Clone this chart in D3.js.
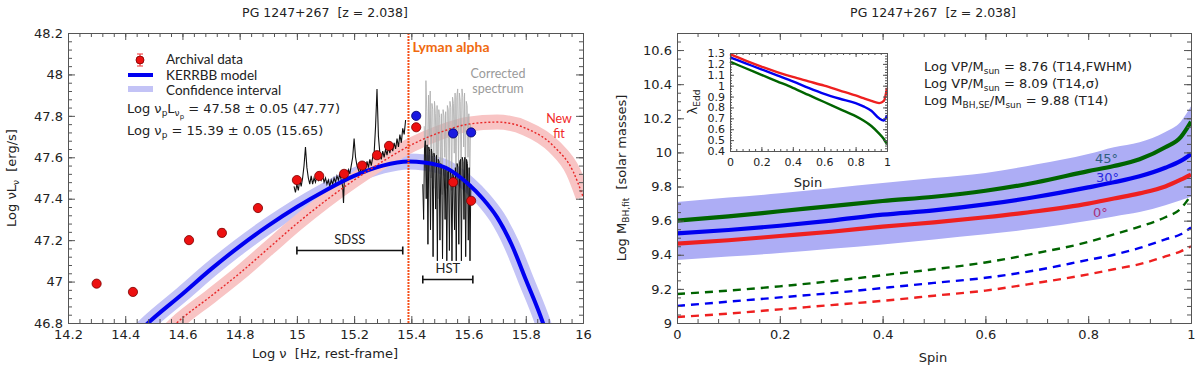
<!DOCTYPE html>
<html>
<head>
<meta charset="utf-8">
<script src="https://cdn.jsdelivr.net/npm/d3@7"></script>
<style>
  body { margin: 0; background: #fff; }
  text { font-family: "DejaVu Sans", sans-serif; fill: #222; white-space: pre; }
  .axis path, .axis line { stroke: #555; }
  .axis text { font-family: "DejaVu Sans", sans-serif; font-size: 13px; fill: #222; }
  .lato { font-family: Lato, "Open Sans", sans-serif; }
</style>
</head>
<body>
<div id="chart"></div>
<script>
// ---------------- data : left panel (SED) ----------------
let LEFT_X_TICKS = [14.2, 14.4, 14.6, 14.8, 15, 15.2, 15.4, 15.6, 15.8, 16];
let LEFT_Y_TICKS = [46.8, 47, 47.2, 47.4, 47.6, 47.8, 48, 48.2];

// archival photometry (red)
let ARCH_NU  = [14.30, 14.427, 14.623, 14.738, 14.864, 15.0, 15.078, 15.165, 15.228, 15.28, 15.322, 15.417, 15.546, 15.609];
let ARCH_L   = [46.99, 46.95, 47.20, 47.235, 47.355, 47.49, 47.51, 47.52, 47.56, 47.61, 47.655, 47.745, 47.48, 47.39];
let ARCH_ERR = [0, 0, 0, 0.018, 0, 0, 0, 0, 0, 0, 0, 0, 0, 0];
// corrected points (blue)
let CORR_NU = [15.417, 15.546, 15.609];
let CORR_L  = [47.80, 47.715, 47.72];

// KERRBB model
let KERR_NU = [14.45, 14.48, 14.6, 14.7, 14.8, 14.9, 15.0, 15.1, 15.2, 15.3, 15.39, 15.5, 15.6, 15.65, 15.7, 15.75, 15.8, 15.86, 15.9];
let KERR_L  = [46.76, 46.80, 46.94, 47.06, 47.17, 47.27, 47.36, 47.44, 47.51, 47.56, 47.58, 47.56, 47.47, 47.40, 47.31, 47.18, 47.01, 46.80, 46.62];

// new fit
let NEWFIT_NU = [14.55, 14.58, 14.7, 14.8, 14.9, 15.0, 15.1, 15.2, 15.3, 15.4, 15.5, 15.6, 15.7, 15.8, 15.9, 15.966, 16.0];
let NEWFIT_L  = [46.76, 46.80, 46.93, 47.04, 47.16, 47.28, 47.39, 47.49, 47.58, 47.66, 47.72, 47.76, 47.77, 47.74, 47.65, 47.53, 47.41];

// SDSS spectrum
let SDSS_NU = [14.990, 14.995, 15.000, 15.005, 15.010, 15.015, 15.020, 15.025, 15.030, 15.035, 15.040, 15.045, 15.050, 15.055, 15.060, 15.065, 15.070, 15.075, 15.080, 15.085, 15.090, 15.095, 15.100, 15.105, 15.110, 15.115, 15.120, 15.125, 15.130, 15.135, 15.140, 15.145, 15.150, 15.155, 15.160, 15.163, 15.166, 15.170, 15.175, 15.180, 15.185, 15.190, 15.195, 15.200, 15.205, 15.210, 15.215, 15.220, 15.225, 15.230, 15.235, 15.240, 15.245, 15.250, 15.255, 15.260, 15.265, 15.270, 15.275, 15.280, 15.285, 15.290, 15.295, 15.300, 15.305, 15.310, 15.315, 15.320, 15.325, 15.330, 15.335, 15.340, 15.345, 15.350, 15.355, 15.360, 15.365, 15.370, 15.375, 15.380];
let SDSS_L  = [47.46, 47.43, 47.47, 47.44, 47.49, 47.46, 47.50, 47.56, 47.65, 47.55, 47.50, 47.47, 47.51, 47.47, 47.50, 47.48, 47.51, 47.49, 47.52, 47.49, 47.51, 47.48, 47.50, 47.47, 47.49, 47.46, 47.49, 47.47, 47.50, 47.48, 47.51, 47.49, 47.52, 47.49, 47.46, 47.38, 47.50, 47.53, 47.51, 47.54, 47.52, 47.56, 47.60, 47.69, 47.60, 47.56, 47.54, 47.52, 47.56, 47.53, 47.57, 47.54, 47.58, 47.55, 47.59, 47.56, 47.60, 47.62, 47.75, 47.93, 47.70, 47.62, 47.59, 47.63, 47.60, 47.64, 47.61, 47.65, 47.62, 47.66, 47.63, 47.67, 47.64, 47.69, 47.65, 47.71, 47.67, 47.74, 47.71, 47.78];

// HST spectrum (observed, black)
let HST_NU = [15.440, 15.443, 15.446, 15.449, 15.452, 15.455, 15.458, 15.461, 15.464, 15.467, 15.470, 15.473, 15.476, 15.479, 15.482, 15.485, 15.488, 15.491, 15.494, 15.497, 15.500, 15.503, 15.506, 15.509, 15.512, 15.515, 15.518, 15.521, 15.524, 15.527, 15.530, 15.533, 15.536, 15.539, 15.542, 15.545, 15.548, 15.551, 15.554, 15.557, 15.560, 15.563, 15.566, 15.569, 15.572, 15.575, 15.578, 15.581, 15.584, 15.587, 15.590, 15.593, 15.596, 15.599, 15.602, 15.605, 15.608];
let HST_L  = [47.47, 47.30, 47.64, 47.68, 47.40, 47.66, 47.18, 47.65, 47.63, 47.25, 47.64, 47.61, 47.12, 47.62, 47.60, 47.35, 47.61, 47.10, 47.59, 47.58, 47.20, 47.57, 47.55, 47.11, 47.56, 47.54, 47.30, 47.55, 47.10, 47.53, 47.54, 47.15, 47.53, 47.51, 47.10, 47.52, 47.50, 47.25, 47.55, 47.10, 47.57, 47.55, 47.18, 47.58, 47.59, 47.10, 47.60, 47.58, 47.30, 47.60, 47.12, 47.59, 47.57, 47.20, 47.55, 47.10, 47.47];

// HST spectrum (corrected, grey)
let CORRSPEC_NU = [15.445, 15.448, 15.451, 15.454, 15.457, 15.460, 15.463, 15.466, 15.469, 15.472, 15.475, 15.478, 15.481, 15.484, 15.487, 15.490, 15.493, 15.496, 15.499, 15.502, 15.505, 15.508, 15.511, 15.514, 15.517, 15.520, 15.523, 15.526, 15.529, 15.532, 15.535, 15.538, 15.541, 15.544, 15.547, 15.550, 15.553, 15.556, 15.559, 15.562, 15.565, 15.568, 15.571, 15.574, 15.577, 15.580, 15.583, 15.586, 15.589, 15.592, 15.595, 15.598, 15.601, 15.604, 15.607];
let CORRSPEC_L  = [47.75, 47.55, 47.97, 47.82, 47.45, 47.90, 47.70, 47.92, 47.50, 47.86, 47.83, 47.45, 47.87, 47.81, 47.60, 47.85, 47.40, 47.83, 47.79, 47.55, 47.81, 47.42, 47.83, 47.80, 47.60, 47.82, 47.45, 47.85, 47.83, 47.50, 47.87, 47.84, 47.44, 47.89, 47.86, 47.62, 47.91, 47.45, 47.89, 47.93, 47.55, 47.91, 47.87, 47.48, 47.93, 47.89, 47.65, 47.91, 47.50, 47.87, 47.85, 47.60, 47.81, 47.45, 47.76];

let LYA_NU = 15.39;
let SDSS_RANGE = [15.0, 15.37], SDSS_LEVEL = 47.15;
let HST_RANGE = [15.44, 15.615], HST_LEVEL = 47.01;

// ---------------- data : right panel (mass vs spin) ----------------
let RIGHT_X_TICKS = [0, 0.2, 0.4, 0.6, 0.8, 1];
let RIGHT_Y_TICKS = [9, 9.2, 9.4, 9.6, 9.8, 10, 10.2, 10.4, 10.6];
let SPIN = [0, 0.1, 0.2, 0.3, 0.4, 0.5, 0.6, 0.7, 0.8, 0.85, 0.9, 0.95, 0.98, 1.0];

let M_45 = [9.60, 9.625, 9.655, 9.685, 9.715, 9.74, 9.775, 9.825, 9.89, 9.92, 9.96, 10.03, 10.09, 10.18];
let M_30 = [9.525, 9.545, 9.57, 9.60, 9.635, 9.66, 9.695, 9.74, 9.795, 9.825, 9.86, 9.91, 9.95, 9.99];
let M_0  = [9.465, 9.485, 9.51, 9.535, 9.565, 9.59, 9.62, 9.655, 9.70, 9.73, 9.76, 9.80, 9.84, 9.87];
let BAND_HI = [9.71, 9.735, 9.76, 9.79, 9.82, 9.85, 9.88, 9.93, 9.99, 10.03, 10.06, 10.12, 10.18, 10.27];
let BAND_LO = [9.37, 9.39, 9.41, 9.435, 9.46, 9.49, 9.52, 9.555, 9.60, 9.625, 9.65, 9.69, 9.72, 9.74];
let MD_45 = [9.17, 9.19, 9.215, 9.245, 9.28, 9.315, 9.355, 9.41, 9.475, 9.52, 9.565, 9.62, 9.67, 9.75];
let MD_30 = [9.10, 9.125, 9.15, 9.175, 9.205, 9.235, 9.265, 9.31, 9.37, 9.40, 9.44, 9.49, 9.52, 9.56];
let MD_0  = [9.035, 9.055, 9.08, 9.105, 9.13, 9.16, 9.19, 9.235, 9.285, 9.315, 9.345, 9.39, 9.42, 9.45];

// inset : Eddington ratio vs spin
let INSET_X_TICKS = [0, 0.2, 0.4, 0.6, 0.8, 1];
let INSET_Y_TICKS = [0.4, 0.5, 0.6, 0.7, 0.8, 0.9, 1, 1.1, 1.2, 1.3];
let EDD_0  = [1.29, 1.23, 1.175, 1.125, 1.08, 1.04, 1.0, 0.955, 0.91, 0.885, 0.86, 0.84, 0.86, 0.98];
let EDD_30 = [1.26, 1.205, 1.15, 1.095, 1.04, 0.98, 0.925, 0.88, 0.84, 0.81, 0.77, 0.70, 0.68, 0.73];
let EDD_45 = [1.22, 1.16, 1.10, 1.04, 0.98, 0.915, 0.85, 0.785, 0.72, 0.68, 0.63, 0.56, 0.51, 0.46];

let GREEN = "#006400", BLUE = "#0000f0", RED = "#ee2020";

let svg = d3.select("#chart").append("svg")
    .attr("width", 1200)
    .attr("height", 369);

// draws a framed box with inward major/minor ticks on all four sides
function frame(g, x, y, xTicks, yTicks, xMinor, yMinor, big, small, fs) {
    let [x0, x1] = x.range(), [y0, y1] = y.range();
    let fmt = (d) => String(+d.toFixed(2));
    let add = function (axis, tx, ty, labels) {
        let a = g.append("g").attr("class", "axis")
            .attr("transform", "translate(" + tx + "," + ty + ")")
            .call(axis);
        a.selectAll("text").style("font-size", fs + "px");
        if (!labels) a.selectAll("text").remove();
        return a;
    };
    add(d3.axisBottom(x).tickValues(xTicks).tickFormat(fmt).tickSize(-big).tickSizeOuter(0).tickPadding(7), 0, y0, true);
    add(d3.axisBottom(x).tickValues(xMinor).tickSize(-small).tickSizeOuter(0), 0, y0, false);
    add(d3.axisTop(x).tickValues(xTicks).tickSize(-big).tickSizeOuter(0), 0, y1, false);
    add(d3.axisTop(x).tickValues(xMinor).tickSize(-small).tickSizeOuter(0), 0, y1, false);
    add(d3.axisLeft(y).tickValues(yTicks).tickFormat(fmt).tickSize(-big).tickSizeOuter(0).tickPadding(5), x0, 0, true);
    add(d3.axisLeft(y).tickValues(yMinor).tickSize(-small).tickSizeOuter(0), x0, 0, false);
    add(d3.axisRight(y).tickValues(yTicks).tickSize(-big).tickSizeOuter(0), x1, 0, false);
    add(d3.axisRight(y).tickValues(yMinor).tickSize(-small).tickSizeOuter(0), x1, 0, false);
}

function minorTicks(lo, hi, step) {
    let n = Math.round((hi - lo) / step);
    return d3.range(0, n + 1).map((i) => +(lo + i * step).toFixed(4));
}

function zip(xs, ys) { return xs.map((d, i) => [d, ys[i]]); }

// ================= LEFT PANEL =================
let xL = d3.scaleLinear().domain([14.2, 16]).range([68, 583]);
let yL = d3.scaleLinear().domain([46.8, 48.2]).range([323, 33]);

svg.append("clipPath").attr("id", "clipL").append("rect")
    .attr("x", 68).attr("y", 33).attr("width", 515).attr("height", 290);

let left = svg.append("g");
let plotL = left.append("g").attr("clip-path", "url(#clipL)");
let lineL = d3.line().x((d) => xL(d[0])).y((d) => yL(d[1]));
let smoothL = d3.line().curve(d3.curveMonotoneX).x((d) => xL(d[0])).y((d) => yL(d[1]));

// confidence bands
plotL.append("path").datum(zip(KERR_NU, KERR_L))
    .attr("d", smoothL).attr("fill", "none").attr("stroke", "#c3c3f6").attr("stroke-width", 16);
plotL.append("path").datum(zip(NEWFIT_NU, NEWFIT_L))
    .attr("d", smoothL).attr("fill", "none").attr("stroke", "#f8c4c4").attr("stroke-width", 15);

// spectra
plotL.append("path").datum(zip(CORRSPEC_NU, CORRSPEC_L))
    .attr("d", lineL).attr("fill", "none").attr("stroke", "#b0b0b0").attr("stroke-width", 0.9);
plotL.append("path").datum(zip(HST_NU, HST_L))
    .attr("d", lineL).attr("fill", "none").attr("stroke", "#111").attr("stroke-width", 1);
plotL.append("path").datum(zip(SDSS_NU, SDSS_L))
    .attr("d", lineL).attr("fill", "none").attr("stroke", "#111").attr("stroke-width", 1.1);

// model curves
plotL.append("path").datum(zip(KERR_NU, KERR_L))
    .attr("d", smoothL).attr("fill", "none").attr("stroke", BLUE).attr("stroke-width", 4);
plotL.append("path").datum(zip(NEWFIT_NU, NEWFIT_L))
    .attr("d", smoothL).attr("fill", "none").attr("stroke", "#e82828").attr("stroke-width", 1.4)
    .attr("stroke-dasharray", "2,2");

// Lyman alpha line
left.append("line")
    .attr("x1", xL(LYA_NU)).attr("x2", xL(LYA_NU))
    .attr("y1", yL(48.2)).attr("y2", yL(46.8))
    .attr("stroke", "#f5501a").attr("stroke-width", 2).attr("stroke-dasharray", "2,1");
left.append("text").attr("class", "lato")
    .attr("x", xL(LYA_NU) + 4).attr("y", 52)
    .attr("font-size", 14).attr("font-weight", "bold").style("fill", "#f06a10")
    .text("Lyman alpha");

// SDSS / HST ranges
function rangeBar(r, lvl, label) {
    let g = left.append("g").attr("stroke", "#111").attr("stroke-width", 1.6);
    g.append("line").attr("x1", xL(r[0])).attr("x2", xL(r[1])).attr("y1", yL(lvl)).attr("y2", yL(lvl));
    g.append("line").attr("x1", xL(r[0])).attr("x2", xL(r[0])).attr("y1", yL(lvl) - 4).attr("y2", yL(lvl) + 4);
    g.append("line").attr("x1", xL(r[1])).attr("x2", xL(r[1])).attr("y1", yL(lvl) - 4).attr("y2", yL(lvl) + 4);
    left.append("text").attr("class", "lato")
        .attr("x", xL((r[0] + r[1]) / 2)).attr("y", yL(lvl) - 7)
        .attr("text-anchor", "middle").attr("font-size", 13).text(label);
}
rangeBar(SDSS_RANGE, SDSS_LEVEL, "SDSS");
rangeBar(HST_RANGE, HST_LEVEL, "HST");

// points
let pts = left.append("g");
ARCH_NU.forEach(function (nu, i) {
    if (ARCH_ERR[i] > 0) {
        let gx = xL(nu);
        pts.append("line").attr("x1", gx).attr("x2", gx)
            .attr("y1", yL(ARCH_L[i] + ARCH_ERR[i])).attr("y2", yL(ARCH_L[i] - ARCH_ERR[i]))
            .attr("stroke", "#f03030").attr("stroke-width", 1);
        [ARCH_ERR[i], -ARCH_ERR[i]].forEach((e) => pts.append("line")
            .attr("x1", gx - 3).attr("x2", gx + 3)
            .attr("y1", yL(ARCH_L[i] + e)).attr("y2", yL(ARCH_L[i] + e))
            .attr("stroke", "#f03030").attr("stroke-width", 1));
    }
});
pts.selectAll("circle.arch")
    .data(zip(ARCH_NU, ARCH_L))
    .enter().append("circle")
    .attr("class", "arch")
    .attr("cx", (d) => xL(d[0])).attr("cy", (d) => yL(d[1])).attr("r", 4.6)
    .attr("fill", "#ec1010").attr("stroke", "#7a0000").attr("stroke-width", 0.8);
pts.selectAll("circle.corr")
    .data(zip(CORR_NU, CORR_L))
    .enter().append("circle")
    .attr("class", "corr")
    .attr("cx", (d) => xL(d[0])).attr("cy", (d) => yL(d[1])).attr("r", 4.6)
    .attr("fill", "#1a1ae0").attr("stroke", "#00006a").attr("stroke-width", 0.8);

// labels inside left panel
left.append("text").attr("class", "lato").attr("x", 498).attr("y", 78)
    .attr("text-anchor", "middle").attr("font-size", 12.5).style("fill", "#9a9a9a").text("Corrected");
left.append("text").attr("class", "lato").attr("x", 498).attr("y", 93)
    .attr("text-anchor", "middle").attr("font-size", 12.5).style("fill", "#9a9a9a").text("spectrum");
left.append("text").attr("class", "lato").attr("x", 559).attr("y", 123)
    .attr("text-anchor", "middle").attr("font-size", 12.5).style("fill", "#f02828").text("New");
left.append("text").attr("class", "lato").attr("x", 559).attr("y", 138)
    .attr("text-anchor", "middle").attr("font-size", 12.5).style("fill", "#f02828").text("fit");

// legend
let leg = left.append("g");
leg.append("line").attr("x1", 140).attr("x2", 140).attr("y1", 54).attr("y2", 66)
    .attr("stroke", "#f03030").attr("stroke-width", 1);
leg.append("line").attr("x1", 137).attr("x2", 143).attr("y1", 54).attr("y2", 54).attr("stroke", "#f03030");
leg.append("line").attr("x1", 137).attr("x2", 143).attr("y1", 66).attr("y2", 66).attr("stroke", "#f03030");
leg.append("circle").attr("cx", 140).attr("cy", 60).attr("r", 4)
    .attr("fill", "#ec1010").attr("stroke", "#7a0000").attr("stroke-width", 0.8);
leg.append("line").attr("x1", 128).attr("x2", 153).attr("y1", 75).attr("y2", 75)
    .attr("stroke", BLUE).attr("stroke-width", 4);
leg.append("line").attr("x1", 128).attr("x2", 153).attr("y1", 89).attr("y2", 89)
    .attr("stroke", "#c3c3f6").attr("stroke-width", 6);
[["Archival data", 64], ["KERRBB model", 79.5], ["Confidence interval", 95]].forEach(function (d) {
    leg.append("text").attr("class", "lato").attr("x", 166).attr("y", d[1])
        .attr("font-size", 13.5).text(d[0]);
});
let s1 = leg.append("text").attr("x", 127).attr("y", 113).attr("font-size", 13);
s1.append("tspan").text("Log ν");
s1.append("tspan").attr("dy", 3).attr("font-size", 9).text("p");
s1.append("tspan").attr("dy", -3).text("L");
s1.append("tspan").attr("dy", 3).attr("font-size", 9).text("ν");
s1.append("tspan").attr("dy", 3).attr("font-size", 7).text("p");
s1.append("tspan").attr("dy", -6).text(" = 47.58 ± 0.05 (47.77)");
let s2 = leg.append("text").attr("x", 127).attr("y", 135).attr("font-size", 13);
s2.append("tspan").text("Log ν");
s2.append("tspan").attr("dy", 3).attr("font-size", 9).text("p");
s2.append("tspan").attr("dy", -3).text(" = 15.39 ± 0.05 (15.65)");

frame(left, xL, yL, LEFT_X_TICKS, LEFT_Y_TICKS,
    minorTicks(14.2, 16, 0.04), minorTicks(46.8, 48.2, 0.04), 7, 4, 13);

// titles and axis labels
left.append("text").attr("x", 325).attr("y", 17).attr("text-anchor", "middle")
    .attr("font-size", 12.5).text("PG 1247+267  [z = 2.038]");
left.append("text").attr("x", 325).attr("y", 358).attr("text-anchor", "middle")
    .attr("font-size", 13).text("Log ν  [Hz, rest-frame]");
let yl = left.append("text").attr("transform", "translate(16,178) rotate(-90)")
    .attr("text-anchor", "middle").attr("font-size", 13);
yl.append("tspan").text("Log νL");
yl.append("tspan").attr("dy", 3).attr("font-size", 9).text("ν");
yl.append("tspan").attr("dy", -3).text("  [erg/s]");

// ================= RIGHT PANEL =================
let xR = d3.scaleLinear().domain([0, 1]).range([677, 1191]);
let yR = d3.scaleLinear().domain([9, 10.7]).range([323, 33]);

svg.append("clipPath").attr("id", "clipR").append("rect")
    .attr("x", 677).attr("y", 33).attr("width", 514).attr("height", 290);

let right = svg.append("g");
let plotR = right.append("g").attr("clip-path", "url(#clipR)");
let lineR = d3.line().curve(d3.curveMonotoneX).x((d) => xR(d[0])).y((d) => yR(d[1]));

plotR.append("path").datum(SPIN.map((s, i) => [s, BAND_LO[i], BAND_HI[i]]))
    .attr("d", d3.area().curve(d3.curveMonotoneX)
        .x((d) => xR(d[0])).y0((d) => yR(d[1])).y1((d) => yR(d[2])))
    .attr("fill", "#adadf5");

[[MD_45, GREEN], [MD_30, BLUE], [MD_0, RED]].forEach(function (d) {
    plotR.append("path").datum(zip(SPIN, d[0]))
        .attr("d", lineR).attr("fill", "none").attr("stroke", d[1])
        .attr("stroke-width", 2.4).attr("stroke-dasharray", "8,6");
});
[[M_45, GREEN], [M_30, BLUE], [M_0, RED]].forEach(function (d) {
    plotR.append("path").datum(zip(SPIN, d[0]))
        .attr("d", lineR).attr("fill", "none").attr("stroke", d[1])
        .attr("stroke-width", 4.2);
});

// angle labels
right.append("text").attr("x", 1095).attr("y", 163).attr("font-size", 13).style("fill", "#2f5f80").text("45°");
right.append("text").attr("x", 1096).attr("y", 182).attr("font-size", 13).style("fill", "#2a2ae0").text("30°");
right.append("text").attr("x", 1093).attr("y", 217).attr("font-size", 13).style("fill", "#a8307a").text("0°");

// mass text block
function massLine(yy, name, rest) {
    let t = right.append("text").attr("x", 924).attr("y", yy).attr("font-size", 13);
    t.append("tspan").text("Log " + name + "/M");
    t.append("tspan").attr("dy", 3).attr("font-size", 9).text("sun");
    t.append("tspan").attr("dy", -3).text(rest);
    return t;
}
massLine(71, "VP", " = 8.76 (T14,FWHM)");
massLine(88, "VP", " = 8.09 (T14,σ)");
let m3 = right.append("text").attr("x", 924).attr("y", 105).attr("font-size", 13);
m3.append("tspan").text("Log M");
m3.append("tspan").attr("dy", 3).attr("font-size", 9).text("BH,SE");
m3.append("tspan").attr("dy", -3).text("/M");
m3.append("tspan").attr("dy", 3).attr("font-size", 9).text("sun");
m3.append("tspan").attr("dy", -3).text(" = 9.88 (T14)");

frame(right, xR, yR, RIGHT_X_TICKS, RIGHT_Y_TICKS,
    minorTicks(0, 1, 0.04), minorTicks(9, 10.7, 0.05), 7, 4, 13);

right.append("text").attr("x", 933).attr("y", 17).attr("text-anchor", "middle")
    .attr("font-size", 12.5).text("PG 1247+267  [z = 2.038]");
right.append("text").attr("x", 933).attr("y", 362).attr("text-anchor", "middle")
    .attr("font-size", 13).text("Spin");
let yr = right.append("text").attr("transform", "translate(626,178) rotate(-90)")
    .attr("text-anchor", "middle").attr("font-size", 13);
yr.append("tspan").text("Log M");
yr.append("tspan").attr("dy", 3).attr("font-size", 9).text("BH,fit");
yr.append("tspan").attr("dy", -3).text("  [solar masses]");

// ---------- inset ----------
let xI = d3.scaleLinear().domain([0, 1]).range([730, 887]);
let yI = d3.scaleLinear().domain([0.4, 1.3]).range([151, 53]);
let inset = right.append("g");
inset.append("rect").attr("x", 730).attr("y", 53).attr("width", 157).attr("height", 98).attr("fill", "#fff");
let lineI = d3.line().curve(d3.curveMonotoneX).x((d) => xI(d[0])).y((d) => yI(d[1]));
[[EDD_45, GREEN], [EDD_30, BLUE], [EDD_0, RED]].forEach(function (d) {
    inset.append("path").datum(zip(SPIN, d[0]))
        .attr("d", lineI).attr("fill", "none").attr("stroke", d[1]).attr("stroke-width", 2.4);
});
frame(inset, xI, yI, INSET_X_TICKS, INSET_Y_TICKS,
    minorTicks(0, 1, 0.04), minorTicks(0.4, 1.3, 0.025), 4, 2, 11);
inset.append("text").attr("x", 808).attr("y", 187).attr("text-anchor", "middle")
    .attr("font-size", 13).text("Spin");
let yi = inset.append("text").attr("transform", "translate(697,102) rotate(-90)")
    .attr("text-anchor", "middle").attr("font-size", 13);
yi.append("tspan").text("λ");
yi.append("tspan").attr("dy", 3).attr("font-size", 9).text("Edd");
</script>
</body>
</html>
